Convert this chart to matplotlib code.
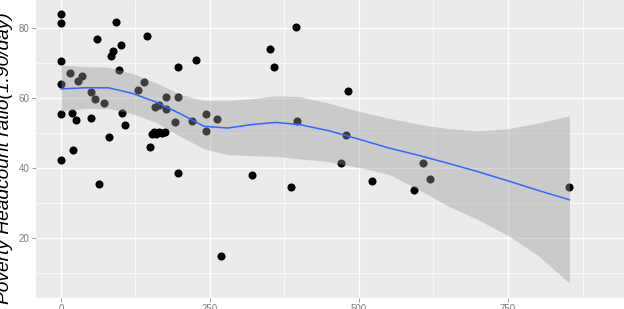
import numpy as np
import matplotlib.pyplot as plt

# scatter points
x_pts = [0, 0, 93, 60, 144, 101, 88, 84, 0, 16, 97, 36, 29, 0, 139, 197, 226,
         50, 57, 72, 130, 0, 18, 25, 50, 102, 108, 81, 20, 149, 0,
         152, 156, 160, 165, 170, 174, 157, 165, 176, 177, 196, 191, 220,
         244, 261, 244, 395, 350, 358, 396, 64, 196, 268, 320, 386,
         470, 521, 607, 619, 593, 853, 482, 478]
y_pts = [84.0, 81.5, 81.7, 76.8, 77.7, 75.0, 73.5, 72.0, 70.5, 67.0, 67.9, 66.2,
         64.9, 64.1, 64.6, 68.8, 70.9, 61.7, 59.7, 58.5, 62.2, 55.3, 55.6, 53.8,
         54.2, 55.6, 52.2, 48.8, 45.2, 46.1, 42.2,
         49.6, 50.2, 49.8, 50.3, 49.9, 50.3, 57.4, 57.9, 56.8, 60.4, 60.2, 53.1,
         53.3, 55.4, 54.0, 50.6, 80.4, 73.9, 68.8, 53.3, 35.3, 38.5, 14.9, 38.1,
         34.6, 41.3, 36.3, 41.3, 36.9, 33.6, 34.6, 62.1, 49.4]

# smoother line and its band
x_fit = [0, 40, 80, 120, 160, 200, 240, 280, 320, 360, 400, 450, 500, 550,
         600, 650, 700, 750, 800, 853]
y_fit = [62.6, 62.9, 62.9, 61.3, 58.8, 55.5, 51.9, 51.4, 52.4, 53.0, 52.4,
         50.6, 48.2, 45.7, 43.6, 41.3, 38.9, 36.3, 33.6, 30.9]
y_upper = [69.4, 69.0, 68.8, 67.0, 64.3, 61.0, 59.3, 59.3, 59.8, 60.6, 60.4,
           58.5, 56.2, 54.2, 52.5, 51.2, 50.6, 51.2, 52.8, 54.9]
y_lower = [56.2, 57.0, 57.0, 55.5, 53.0, 49.0, 45.5, 43.8, 43.5, 43.3, 42.6,
           41.8, 40.1, 38.2, 33.8, 29.1, 25.2, 20.7, 15.0, 7.1]

x_ticks = [0, 250, 500, 750]
y_ticks = [20, 40, 60, 80]

plt.rcParams['font.family'] = ['Liberation Sans', 'DejaVu Sans']

fig = plt.figure(figsize=(6.24, 3.09), dpi=100)
ax = fig.add_axes([0.057, 0.037, 0.943, 0.963])
ax.set_facecolor('#EBEBEB')

ax.scatter(x_pts, y_pts, s=34, color='black', zorder=3, linewidths=0)
ax.fill_between(x_fit, y_lower, y_upper, color='#999999', alpha=0.4,
                linewidth=0, zorder=4)
ax.plot(x_fit, y_fit, color='#3366FF', linewidth=1.1, zorder=5)

ax.set_xlim(-42.6, 944.6)
ax.set_ylim(2.94, 88.0)

ax.set_xticks(x_ticks)
ax.set_yticks(y_ticks)
ax.set_xticks([125, 375, 625, 875], minor=True)
ax.set_yticks([10, 30, 50, 70], minor=True)
ax.grid(which='major', color='white', linewidth=1.0, zorder=0)
ax.grid(which='minor', color='white', linewidth=0.5, zorder=0)
ax.set_axisbelow(True)

for s in ax.spines.values():
    s.set_visible(False)
ax.tick_params(which='major', length=2.8, width=0.6, color='#888888',
               labelcolor='#7F7F7F', labelsize=7, pad=1.5)
ax.tick_params(which='minor', length=0)

fig.text(0.008, 0.488, 'Poverty Headcount ratio(1.90/day)', rotation=90,
         ha='center', va='center', fontsize=13.8, style='italic', color='black')

fig.savefig('out.png', dpi=100)
